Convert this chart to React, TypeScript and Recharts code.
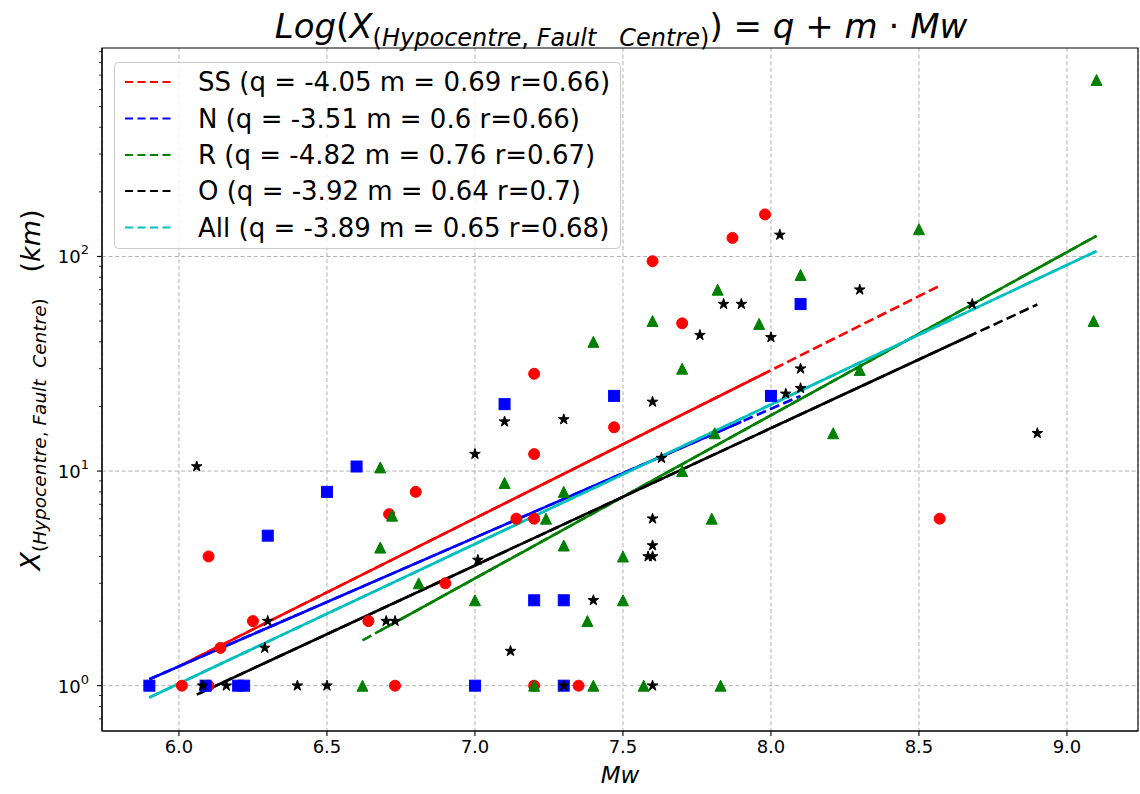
import React from 'react';
import {
  ComposedChart,
  Scatter,
  Line,
  XAxis,
  YAxis,
  CartesianGrid,
  ReferenceLine,
  ReferenceArea,
} from 'recharts';

const FONT = '"DejaVu Sans", sans-serif';
const WIDTH = 1140;
const HEIGHT = 794;

// Observations: [Mw, X (km)] for each faulting class
const ssPoints: [number, number][] = [
  [6.01, 1], [6.1, 1], [6.1, 4.0], [6.14, 1.5], [6.25, 2.0], [6.64, 2.0], [6.71, 6.3],
  [6.73, 1], [6.8, 8.0], [6.9, 3.0], [7.14, 6.0], [7.2, 6.0], [7.2, 12], [7.2, 28.4],
  [7.2, 1], [7.35, 1], [7.47, 16], [7.6, 95], [7.7, 48.8], [7.87, 122], [7.98, 157],
  [8.57, 6.0],
];
const nPoints: [number, number][] = [
  [5.9, 1], [6.09, 1], [6.2, 1], [6.22, 1], [6.3, 5.0], [6.5, 8.0], [6.6, 10.5], [7.0, 1],
  [7.1, 20.5], [7.2, 2.5], [7.3, 2.5], [7.3, 1], [7.47, 22.4], [8.0, 22.4], [8.1, 60],
];
const rPoints: [number, number][] = [
  [6.62, 1], [6.68, 10.4], [6.68, 4.4], [6.72, 6.2], [6.81, 3.0], [7.0, 2.5], [7.1, 8.8],
  [7.2, 1], [7.24, 6.0], [7.3, 8.0], [7.3, 4.5], [7.38, 2.0], [7.4, 40], [7.4, 1], [7.5, 4.0],
  [7.5, 2.5], [7.57, 1], [7.6, 50], [7.7, 30], [7.7, 10], [7.8, 6.0], [7.81, 15], [7.82, 70],
  [7.83, 1], [7.96, 48.5], [8.1, 82], [8.21, 15], [8.3, 29.6], [8.5, 134], [9.09, 50],
  [9.1, 664],
];
const oPoints: [number, number][] = [
  [6.06, 10.5], [6.08, 1], [6.16, 1], [6.29, 1.5], [6.3, 2.0], [6.4, 1], [6.5, 1], [6.7, 2.0],
  [6.73, 2.0], [7.0, 12], [7.01, 3.85], [7.1, 17], [7.12, 1.45], [7.3, 17.4], [7.3, 1],
  [7.4, 2.5], [7.585, 4.0], [7.6, 4.0], [7.6, 4.5], [7.6, 6.0], [7.6, 21], [7.6, 1],
  [7.63, 11.5], [7.76, 43], [7.84, 60], [7.9, 60], [8.0, 42], [8.03, 126], [8.05, 22.9],
  [8.1, 24.3], [8.1, 30], [8.3, 70], [8.68, 60], [8.9, 15],
];

// Regressions log10(X) = q + m * Mw
const fitNames = ['SS', 'N', 'R', 'O', 'All'];
const fitQ = [-4.05, -3.51, -4.82, -3.92, -3.89];
const fitM = [0.69, 0.6, 0.76, 0.64, 0.65];
const fitR = [0.66, 0.66, 0.67, 0.7, 0.68];
const fitColors = ['#ff0000', '#0000ff', '#008000', '#000000', '#00bfbf'];
// Mw span of the dashed fit and of the solid overlay
const dashedSpan: [number, number][] = [[6.01, 8.57], [5.9, 8.1], [6.62, 9.1], [6.06, 8.9], [5.9, 9.1]];
const solidSpan: [number, number][] = [[6.04, 7.98], [5.9, 7.9], [6.68, 9.1], [6.07, 8.68], [5.9, 9.1]];

const xDomain: [number, number] = [5.74, 9.24];
const yDomain: [number, number] = [0.615, 936];
const xTicks = [6, 6.5, 7, 7.5, 8, 8.5, 9];
const yMajorTicks = [1, 10, 100];
const yMinorTicks = [0.7, 0.8, 0.9, 2, 3, 4, 5, 6, 7, 8, 9, 20, 30, 40, 50, 60, 70, 80, 90, 200, 300, 400, 500, 600, 700, 800, 900];

const toRows = (pts: [number, number][]) => pts.map(([x, y]) => ({ x, y }));
const fitRows = (i: number, span: [number, number]) =>
  span.map((x) => ({ x, y: Math.pow(10, fitQ[i] + fitM[i] * x) }));

const MS = 11;

const RedCircle = (p: any) => (
  <circle cx={p.cx} cy={p.cy} r={MS / 2} fill="#ff0000" stroke="#ff0000" strokeWidth={1} />
);
const BlueSquare = (p: any) => (
  <rect x={p.cx - MS / 2} y={p.cy - MS / 2} width={MS} height={MS} fill="#0000ff" stroke="#0000ff" strokeWidth={1} />
);
const GreenTriangle = (p: any) => {
  const h = MS / 2;
  return (
    <polygon
      points={`${p.cx},${p.cy - h} ${p.cx - h},${p.cy + h} ${p.cx + h},${p.cy + h}`}
      fill="#008000"
      stroke="#008000"
      strokeWidth={1}
    />
  );
};
const BlackStar = (p: any) => {
  const R = 5.6;
  const r = R * 0.381966;
  const pts: string[] = [];
  for (let k = 0; k < 10; k++) {
    const a = -Math.PI / 2 + (k * Math.PI) / 5;
    const rr = k % 2 === 0 ? R : r;
    pts.push(`${p.cx + rr * Math.cos(a)},${p.cy + rr * Math.sin(a)}`);
  }
  return <polygon points={pts.join(' ')} fill="#000" stroke="#000" strokeWidth={1} />;
};

const XTick = (props: any) => {
  const { x, y, payload } = props;
  return (
    <g>
      <line x1={x} x2={x} y1={y} y2={y + 5} stroke="#000" strokeWidth={1.1} />
      <text x={x} y={y + 22} textAnchor="middle" fontSize={18} fontFamily={FONT} fill="#000">
        {Number(payload.value).toFixed(1)}
      </text>
    </g>
  );
};

const YTick = (props: any) => {
  const { x, y, payload } = props;
  const v = Number(payload.value);
  const lg = Math.log10(v);
  const exp = Math.round(lg);
  const major = Math.abs(lg - exp) < 1e-9;
  return (
    <g>
      <line x1={x - (major ? 5 : 3)} x2={x} y1={y} y2={y} stroke="#000" strokeWidth={major ? 1.1 : 0.8} />
      {major && (
        <text x={x - 13} y={y + 7} textAnchor="end" fontSize={18} fontFamily={FONT} fill="#000">
          10
          <tspan fontSize={13} dy={-9}>{exp}</tspan>
        </text>
      )}
    </g>
  );
};

const GRID = '#b0b0b0';
const GRID_DASH = '4 2.6';

const Overlay = () => {
  const rowY = [20, 56.5, 93, 129, 165.5];
  return (
    <svg
      width={WIDTH}
      height={HEIGHT}
      style={{ position: 'absolute', left: 0, top: 0, pointerEvents: 'none' }}
    >
      {/* title */}
      <text x={621} y={38} textAnchor="middle" fontFamily={FONT} fontSize={34} fill="#000" style={{ whiteSpace: 'pre' }}>
        <tspan fontStyle="italic">Log</tspan>
        <tspan>(</tspan>
        <tspan fontStyle="italic">X</tspan>
        <tspan fontSize={24} dy={8}>(</tspan>
        <tspan fontSize={24} fontStyle="italic">Hypocentre</tspan>
        <tspan fontSize={24}>{', '}</tspan>
        <tspan fontSize={24} fontStyle="italic">Fault</tspan>
        <tspan fontSize={24}>{'   '}</tspan>
        <tspan fontSize={24} fontStyle="italic">Centre</tspan>
        <tspan fontSize={24}>)</tspan>
        <tspan dy={-8}>{') = '}</tspan>
        <tspan fontStyle="italic">q</tspan>
        <tspan>{' + '}</tspan>
        <tspan fontStyle="italic">m</tspan>
        <tspan>{' · '}</tspan>
        <tspan fontStyle="italic">Mw</tspan>
      </text>

      {/* y label */}
      <text
        transform="translate(40,390) rotate(-90)"
        textAnchor="middle"
        fontFamily={FONT}
        fontSize={27}
        fill="#000"
        style={{ whiteSpace: 'pre' }}
      >
        <tspan fontStyle="italic">X</tspan>
        <tspan fontSize={18.5} dy={6}>(</tspan>
        <tspan fontSize={18.5} fontStyle="italic">Hypocentre</tspan>
        <tspan fontSize={18.5}>{', '}</tspan>
        <tspan fontSize={18.5} fontStyle="italic">Fault</tspan>
        <tspan fontSize={18.5}>{'  '}</tspan>
        <tspan fontSize={18.5} fontStyle="italic">Centre</tspan>
        <tspan fontSize={18.5}>)</tspan>
        <tspan dy={-6}>{'   ('}</tspan>
        <tspan fontStyle="italic">km</tspan>
        <tspan>)</tspan>
      </text>

      {/* x label */}
      <text x={620} y={783} textAnchor="middle" fontFamily={FONT} fontSize={23} fontStyle="italic" fill="#000">
        Mw
      </text>

      {/* legend */}
      <g transform="translate(114,62)">
        <rect x={0.5} y={0.5} width={506} height={186} rx={4} fill="rgba(255,255,255,0.8)" stroke="#cccccc" strokeWidth={1} />
        {fitNames.map((n, i) => (
          <g key={n}>
            <line
              x1={11}
              x2={59}
              y1={rowY[i]}
              y2={rowY[i]}
              stroke={fitColors[i]}
              strokeWidth={2}
              strokeDasharray="8 4.5"
            />
            <text x={84} y={rowY[i] + 9} fontFamily={FONT} fontSize={26} fill="#000">
              {`${n} (q = ${fitQ[i]} m = ${fitM[i]} r=${fitR[i]})`}
            </text>
          </g>
        ))}
      </g>
    </svg>
  );
};

const classSets = [
  { pts: ssPoints, shape: RedCircle },
  { pts: nPoints, shape: BlueSquare },
  { pts: rPoints, shape: GreenTriangle },
  { pts: oPoints, shape: BlackStar },
];

export default function App() {
  const series: React.ReactNode[] = [];
  fitNames.forEach((n, i) => {
    if (i < classSets.length) {
      series.push(
        <Scatter
          key={`pts-${n}`}
          data={toRows(classSets[i].pts)}
          shape={classSets[i].shape}
          isAnimationActive={false}
        />
      );
    }
    series.push(
      <Line
        key={`dash-${n}`}
        data={fitRows(i, dashedSpan[i])}
        dataKey="y"
        stroke={fitColors[i]}
        strokeWidth={2.6}
        strokeDasharray="10 4.4"
        dot={false}
        activeDot={false}
        isAnimationActive={false}
      />,
      <Line
        key={`solid-${n}`}
        data={fitRows(i, solidSpan[i])}
        dataKey="y"
        stroke={fitColors[i]}
        strokeWidth={2.6}
        dot={false}
        activeDot={false}
        isAnimationActive={false}
      />
    );
  });

  return (
    <div style={{ position: 'absolute', left: 0, top: 0, width: WIDTH, height: HEIGHT, background: '#fff' }}>
      <ComposedChart width={WIDTH} height={HEIGHT} margin={{ top: 48, right: 2, bottom: 0, left: 0 }}>
        <CartesianGrid horizontal={false} stroke={GRID} strokeDasharray={GRID_DASH} strokeWidth={1} />
        {yMajorTicks.map((t) => (
          <ReferenceLine key={t} y={t} stroke={GRID} strokeDasharray={GRID_DASH} strokeWidth={1} />
        ))}
        <XAxis
          dataKey="x"
          type="number"
          domain={xDomain}
          allowDataOverflow
          ticks={xTicks}
          interval={0}
          height={63}
          tickSize={0}
          tickMargin={0}
          tickLine={false}
          tick={(p: any) => <XTick {...p} />}
          axisLine={{ stroke: '#000', strokeWidth: 1.1 }}
        />
        <YAxis
          dataKey="y"
          type="number"
          scale="log"
          domain={yDomain}
          allowDataOverflow
          ticks={[...yMajorTicks, ...yMinorTicks].sort((a, b) => a - b)}
          interval={0}
          width={102}
          tickSize={0}
          tickMargin={0}
          tickLine={false}
          tick={(p: any) => <YTick {...p} />}
          axisLine={{ stroke: '#000', strokeWidth: 1.1 }}
        />
        {series}
        {/* axes frame */}
        <ReferenceArea
          x1={xDomain[0]}
          x2={xDomain[1]}
          y1={yDomain[0]}
          y2={yDomain[1]}
          fill="none"
          fillOpacity={0}
          stroke="#000"
          strokeWidth={1.1}
          ifOverflow="visible"
        />
      </ComposedChart>
      <Overlay />
    </div>
  );
}
